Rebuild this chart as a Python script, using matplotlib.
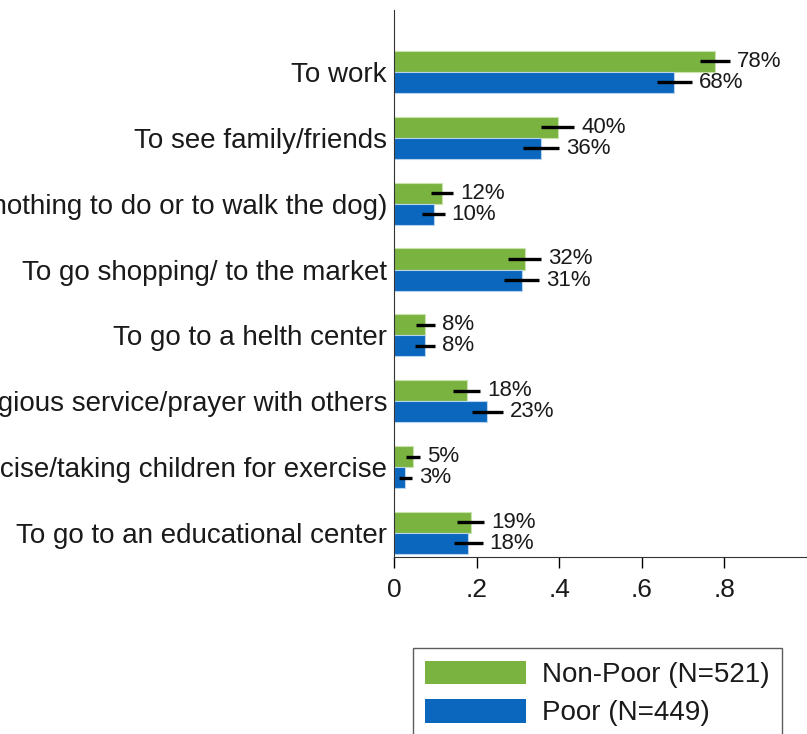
import matplotlib
matplotlib.use("Agg")
import matplotlib.pyplot as plt
from matplotlib.patches import Patch
from matplotlib.ticker import FuncFormatter
import numpy as np

plt.rcParams["font.family"] = ["Liberation Sans", "DejaVu Sans"]

categories = [
    "To work",
    "To see family/friends",
    "To go for a walk (nothing to do or to walk the dog)",
    "To go shopping/ to the market",
    "To go to a helth center",
    "To attend a religious service/prayer with others",
    "To exercise/taking children for exercise",
    "To go to an educational center",
]
non_poor = [0.777, 0.396, 0.116, 0.316, 0.076, 0.176, 0.046, 0.186]
poor = [0.679, 0.356, 0.096, 0.309, 0.076, 0.226, 0.027, 0.180]
non_poor_err = [0.036, 0.041, 0.027, 0.040, 0.023, 0.033, 0.017, 0.033]
poor_err = [0.042, 0.044, 0.027, 0.043, 0.024, 0.037, 0.016, 0.035]
series_labels = ["Non-Poor (N=521)", "Poor (N=449)"]
xticks = [0, 0.2, 0.4, 0.6, 0.8]

green = "#7AB33F"
blue = "#0B67BE"
text_col = "#1a1a1a"

fig = plt.figure(figsize=(8.07, 7.34), dpi=100)
ax = fig.add_axes([394 / 807, 1 - 557 / 734, 1 - 394 / 807, (557 - 10) / 734])

y = np.arange(len(categories))
h = 0.32

ax.barh(y - h / 2, non_poor, height=h, color=green, edgecolor="#c9e3ad", linewidth=0.8)
ax.barh(y + h / 2, poor, height=h, color=blue, edgecolor="#b7d3ee", linewidth=0.8)
ax.errorbar(non_poor, y - h / 2, xerr=non_poor_err, fmt="none", ecolor="black",
            elinewidth=2.4, capsize=0)
ax.errorbar(poor, y + h / 2, xerr=poor_err, fmt="none", ecolor="black",
            elinewidth=2.4, capsize=0)

for vals, errs, off in ((non_poor, non_poor_err, -h / 2), (poor, poor_err, h / 2)):
    for i, (v, e) in enumerate(zip(vals, errs)):
        ax.annotate(f"{round(v * 100)}%", xy=(v + e, i + off), xytext=(5, 0),
                    textcoords="offset points", ha="left", va="center",
                    fontsize=16, color=text_col)

ax.set_xlim(0, 1.0)
ax.set_ylim(7 + 0.365, -0.94)
ax.set_yticks(y)
ax.set_yticklabels(categories, fontsize=20, color=text_col)
ax.tick_params(axis="y", length=0, pad=5)
ax.set_xticks(xticks)
ax.xaxis.set_major_formatter(FuncFormatter(lambda v, p: "0" if v == 0 else f"{v:.1f}".lstrip("0")))
ax.tick_params(axis="x", length=8, width=1, pad=7, labelsize=19, labelcolor=text_col)

for s in ("top", "right"):
    ax.spines[s].set_visible(False)
ax.spines["left"].set_color("#333333")
ax.spines["bottom"].set_color("#333333")

handles = [Patch(facecolor=green, edgecolor="none"), Patch(facecolor=blue, edgecolor="none")]
leg = fig.legend(handles, series_labels, loc="upper left",
                 bbox_to_anchor=(413 / 807, 1 - 648 / 734), borderaxespad=0,
                 fontsize=20, handlelength=3.6, handleheight=0.95,
                 handletextpad=0.6, labelspacing=0.38, borderpad=0.45,
                 fancybox=False, frameon=True)
leg.get_frame().set_edgecolor("#333333")
leg.get_frame().set_linewidth(1.0)
for t in leg.get_texts():
    t.set_color(text_col)

fig.savefig("out.png", dpi=100)
